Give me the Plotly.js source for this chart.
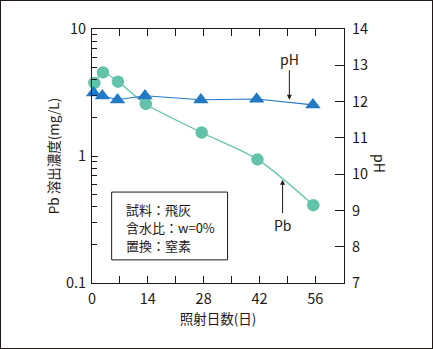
<!DOCTYPE html>
<html>
<head>
<meta charset="utf-8">
<script src="https://cdn.plot.ly/plotly-3.0.1.min.js"></script>
<style>
html,body{margin:0;padding:0;background:#fff;}
#wrap{position:relative;width:433px;height:349px;}
#chart{width:433px;height:349px;}
#frame{position:absolute;left:0;top:0;width:433px;height:349px;box-sizing:border-box;border:1px solid #231815;pointer-events:none;}
</style>
</head>
<body>
<div id="wrap"><div id="chart"></div><div id="frame"></div></div>
<script>
// Data
var daysPb = [0.6, 2.75, 6.5, 13.5, 27.5, 41.5, 55.5];
var pbConc = [3.76, 4.55, 3.85, 2.57, 1.53, 0.94, 0.41];
var daysPH = [0.4, 2.6, 6.4, 13.3, 27.3, 41.3, 55.4];
var phVals = [12.24, 12.16, 12.05, 12.16, 12.05, 12.07, 11.91];

var xTickVals = [0, 14, 28, 42, 56];
var xTickText = ['0', '14', '28', '42', '56'];
var xMinorVals = [7, 21, 35, 49];
var yTickVals = [0.1, 1, 10];
var yTickText = ['0.1', '1', '10'];
var yMinorVals = [0.2, 0.3, 0.4, 0.5, 0.6, 0.7, 0.8, 0.9, 2, 3, 4, 5, 6, 7, 8, 9];
var y2TickVals = [7, 8, 9, 10, 11, 12, 13, 14];
var boxLines = ['試料：飛灰', '含水比：w=0%', '置換：窒素'];

var ink = '#231815';
var FONT = '"Noto Sans CJK JP", "Noto Sans", sans-serif';
var teal = '#63C3AA';
var blue = '#2279C4';

var traces = [
  {
    x: daysPb, y: pbConc, yaxis: 'y', type: 'scatter', mode: 'lines+markers',
    name: 'Pb', cliponaxis: false,
    line: {color: teal, width: 1.3, shape: 'spline', smoothing: 0.8},
    marker: {symbol: 'circle', size: 12.5, color: teal, line: {width: 0}},
    showlegend: false
  },
  {
    x: daysPH, y: phVals, yaxis: 'y2', type: 'scatter', mode: 'lines+markers',
    name: 'pH', cliponaxis: false,
    line: {color: blue, width: 1.1},
    marker: {symbol: 'triangle-up', size: 13.5, color: blue, line: {width: 0}},
    showlegend: false
  }
];

var boxY = [0.2898, 0.2177, 0.1457];
var annotations = [
  {xref: 'paper', yref: 'paper', x: 1.143, y: 0.472, text: 'pH', textangle: 90,
   showarrow: false, font: {size: 14, family: FONT, color: ink}, xanchor: 'center', yanchor: 'middle'},
  {x: 49.5, y: 12.05, xref: 'x', yref: 'y2', text: 'pH', showarrow: true,
   ax: 0, ay: -41, arrowhead: 2, arrowsize: 1, arrowwidth: 1, arrowcolor: ink, standoff: 0,
   font: {size: 14, family: FONT, color: ink}},
  {x: 47.8, y: Math.log10(0.65), xref: 'x', yref: 'y', text: 'Pb', showarrow: true,
   ax: 0, ay: 45, arrowhead: 2, arrowsize: 1, arrowwidth: 1, arrowcolor: ink, standoff: 0,
   font: {size: 14, family: FONT, color: ink}}
];
boxLines.forEach(function (t, i) {
  annotations.push({xref: 'paper', yref: 'paper', x: 0.132, y: boxY[i], xanchor: 'left', yanchor: 'middle',
    align: 'left', text: t, showarrow: false, borderpad: 0,
    font: {size: 13, family: FONT, color: ink}});
});

var layout = {
  width: 433, height: 349,
  margin: {l: 92, r: 89, t: 29, b: 66},
  paper_bgcolor: '#ffffff', plot_bgcolor: '#ffffff',
  font: {family: FONT, color: ink, size: 14},
  xaxis: {
    range: [0, 63.2], showgrid: false, zeroline: false,
    showline: true, linecolor: ink, linewidth: 1, mirror: 'ticks',
    tickmode: 'array', tickvals: xTickVals, ticktext: xTickText,
    ticks: 'inside', ticklen: 7, tickcolor: ink, tickwidth: 1,
    minor: {tickmode: 'array', tickvals: xMinorVals, ticks: 'inside', ticklen: 7, tickcolor: ink, tickwidth: 1, showgrid: false},
    tickfont: {size: 14.5, family: FONT, color: ink},
    ticklabelstandoff: 3,
    title: {text: '照射日数(日)', font: {size: 13.5, family: FONT, color: ink}, standoff: 4}
  },
  yaxis: {
    type: 'log', range: [-1, 1], showgrid: false, zeroline: false,
    showline: true, linecolor: ink, linewidth: 1,
    tickmode: 'array', tickvals: yTickVals, ticktext: yTickText,
    ticks: 'inside', ticklen: 6, tickcolor: ink, tickwidth: 1,
    minor: {tickmode: 'array', tickvals: yMinorVals, ticks: 'inside', ticklen: 5, tickcolor: ink, tickwidth: 1, showgrid: false},
    tickfont: {size: 14.5, family: FONT, color: ink},
    ticklabelstandoff: 2,
    title: {text: 'Pb 溶出濃度(mg/L)', font: {size: 13.5, family: FONT, color: ink}, standoff: 3}
  },
  yaxis2: {
    overlaying: 'y', side: 'right', range: [7, 14], showgrid: false, zeroline: false,
    showline: true, linecolor: ink, linewidth: 1,
    tickmode: 'array', tickvals: y2TickVals,
    ticks: 'inside', ticklen: 9, tickcolor: ink, tickwidth: 1,
    tickfont: {size: 14.5, family: FONT, color: ink},
    ticklabelstandoff: 4
  },
  shapes: [
    {type: 'rect', xref: 'paper', yref: 'paper',
     x0: 0.078, x1: 0.538, y0: 0.091, y1: 0.358,
     line: {color: ink, width: 1}, fillcolor: 'rgba(255,255,255,0)', layer: 'above'}
  ],
  annotations: annotations
};

Plotly.newPlot('chart', traces, layout, {displayModeBar: false, staticPlot: true});
</script>
</body>
</html>
